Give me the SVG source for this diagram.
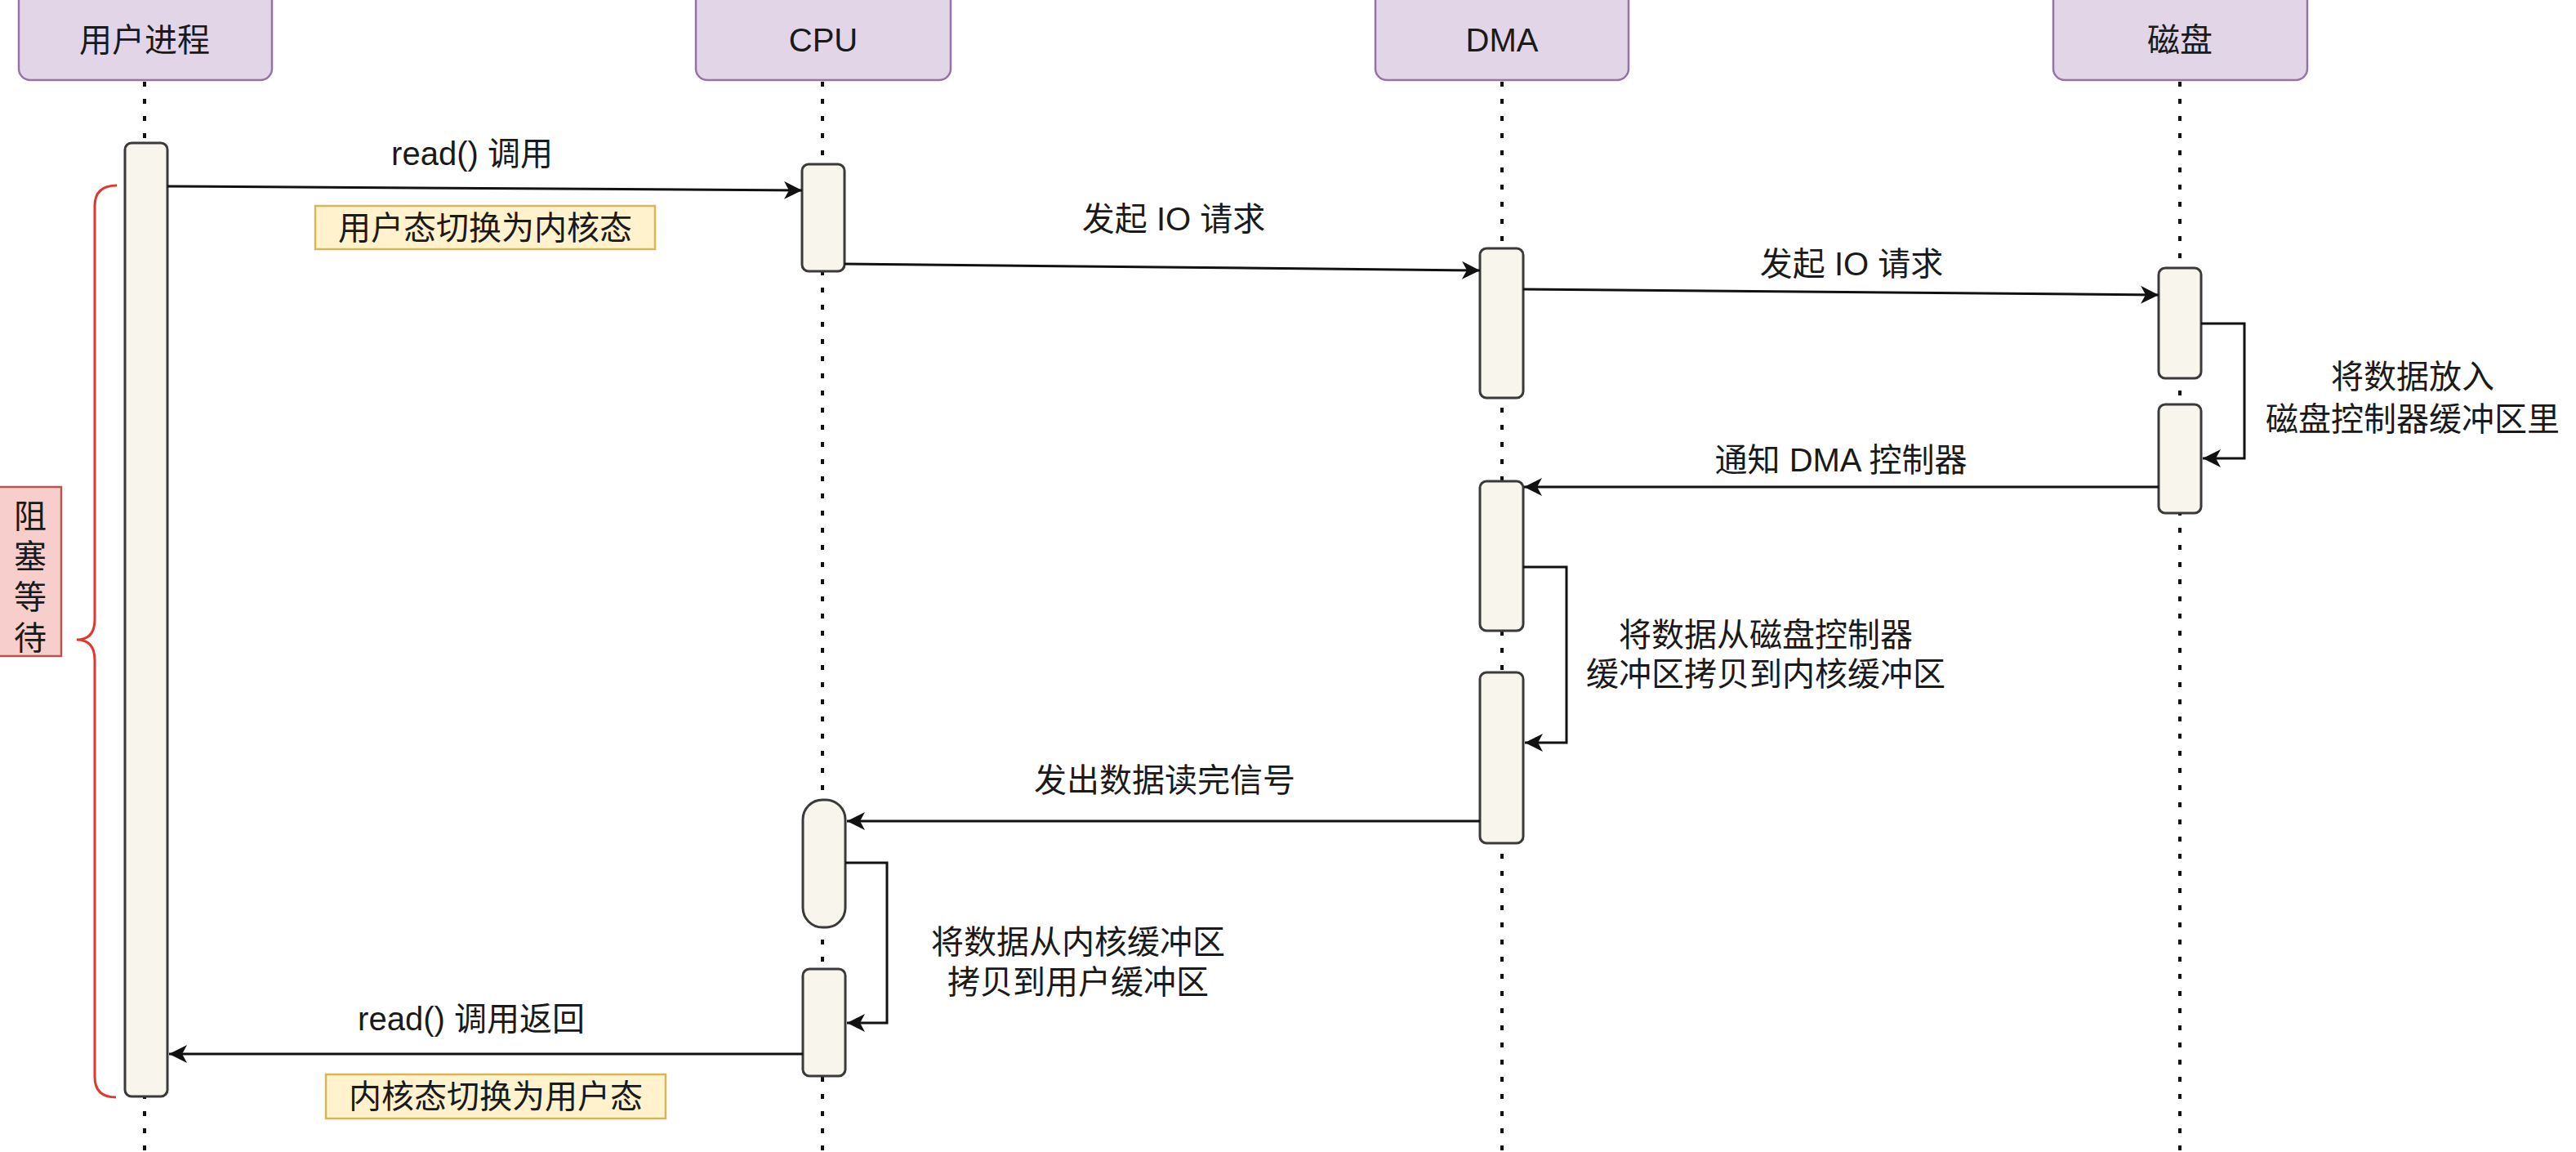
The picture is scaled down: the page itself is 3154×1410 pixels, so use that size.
<svg xmlns="http://www.w3.org/2000/svg" width="3154" height="1410" viewBox="0 0 3154 1410">
<defs>
<style>
text{font-family:"Liberation Sans","Noto Sans CJK SC",sans-serif;font-size:40px;fill:#1a1a1a;text-anchor:middle;dominant-baseline:central}
.hdr{fill:#e1d5e7;stroke:#9673a6;stroke-width:2.5}
.life{stroke:#111;stroke-width:4;stroke-dasharray:6 15;fill:none}
.bar{fill:#f7f5ec;stroke:#3a3a3a;stroke-width:3}
.msg{stroke:#111;stroke-width:3;fill:none;marker-end:url(#arr)}
.note{fill:#fff2cc;stroke:#d6b656;stroke-width:2.5}
.block{fill:#f8cecc;stroke:#b85450;stroke-width:2.5}
.brace{stroke:#e0382f;stroke-width:3;fill:none}
</style>
<marker id="arr" markerUnits="userSpaceOnUse" markerWidth="24" markerHeight="24" refX="22" refY="11" orient="auto">
<path d="M0,0 L22,11 L0,22 L6,11 Z" fill="#111"/>
</marker>
</defs>

<g id="lifelines">
<line class="life" x1="177" y1="100" x2="177" y2="1410"/>
<line class="life" x1="1007" y1="100" x2="1007" y2="1410"/>
<line class="life" x1="1839" y1="100" x2="1839" y2="1410"/>
<line class="life" x1="2669" y1="100" x2="2669" y2="1410"/>
</g>

<g id="header-user"><rect class="hdr" x="23" y="-20" width="310" height="118" rx="14"/><text x="177" y="49">用户进程</text></g>
<g id="header-cpu"><rect class="hdr" x="852" y="-20" width="312" height="118" rx="14"/><text x="1008" y="49">CPU</text></g>
<g id="header-dma"><rect class="hdr" x="1684" y="-20" width="310" height="118" rx="14"/><text x="1839" y="49">DMA</text></g>
<g id="header-disk"><rect class="hdr" x="2514" y="-20" width="311" height="118" rx="14"/><text x="2669" y="49">磁盘</text></g>

<g id="bar-user"><rect class="bar" x="153" y="175" width="52" height="1167" rx="8"/></g>
<g id="bar-cpu-1"><rect class="bar" x="982" y="201" width="52" height="131" rx="8"/></g>
<g id="bar-cpu-2"><rect class="bar" x="983" y="979" width="52" height="156" rx="24"/></g>
<g id="bar-cpu-3"><rect class="bar" x="983" y="1186" width="52" height="131" rx="8"/></g>
<g id="bar-dma-1"><rect class="bar" x="1812" y="304" width="53" height="183" rx="8"/></g>
<g id="bar-dma-2"><rect class="bar" x="1812" y="589" width="53" height="183" rx="8"/></g>
<g id="bar-dma-3"><rect class="bar" x="1812" y="823" width="53" height="209" rx="8"/></g>
<g id="bar-disk-1"><rect class="bar" x="2643" y="328" width="52" height="135" rx="8"/></g>
<g id="bar-disk-2"><rect class="bar" x="2643" y="495" width="52" height="133" rx="8"/></g>

<g id="connectors">
<path class="msg" d="M205,228 L982,233"/>
<path class="msg" d="M1034,323 L1812,331"/>
<path class="msg" d="M1865,354 L2643,361"/>
<path class="msg" d="M2695,396 H2748 V561 H2697"/>
<path class="msg" d="M2643,596 L1866,596"/>
<path class="msg" d="M1865,694 H1918 V909 H1867"/>
<path class="msg" d="M1812,1005 L1037,1005"/>
<path class="msg" d="M1035,1056 H1086 V1252 H1037"/>
<path class="msg" d="M983,1290 L207,1290"/>
</g>

<g id="labels">
<text x="578" y="188">read() 调用</text>
<text x="1437" y="268">发起 IO 请求</text>
<text x="2267" y="323">发起 IO 请求</text>
<text x="2954" y="461">将数据放入</text>
<text x="2954" y="513">磁盘控制器缓冲区里</text>
<text x="2254" y="563">通知 DMA 控制器</text>
<text x="2162" y="777">将数据从磁盘控制器</text>
<text x="2162" y="825">缓冲区拷贝到内核缓冲区</text>
<text x="1426" y="955">发出数据读完信号</text>
<text x="1320" y="1153">将数据从内核缓冲区</text>
<text x="1320" y="1202">拷贝到用户缓冲区</text>
<text x="577" y="1247">read() 调用返回</text>
</g>

<g id="note-u2k"><rect class="note" x="386" y="252" width="416" height="53"/><text x="594" y="279">用户态切换为内核态</text></g>
<g id="note-k2u"><rect class="note" x="399" y="1315" width="416" height="54"/><text x="607" y="1342">内核态切换为用户态</text></g>

<g id="brace"><path class="brace" d="M143,227 Q116,227 116,252 L116,758 Q116,783 94,783 Q116,783 116,808 L116,1318 Q116,1343 142,1343"/></g>

<g id="block-wait"><rect class="block" x="-5" y="596" width="80" height="207"/>
<text x="37" y="632">阻</text><text x="37" y="681">塞</text><text x="37" y="731">等</text><text x="37" y="781">待</text></g>
</svg>
